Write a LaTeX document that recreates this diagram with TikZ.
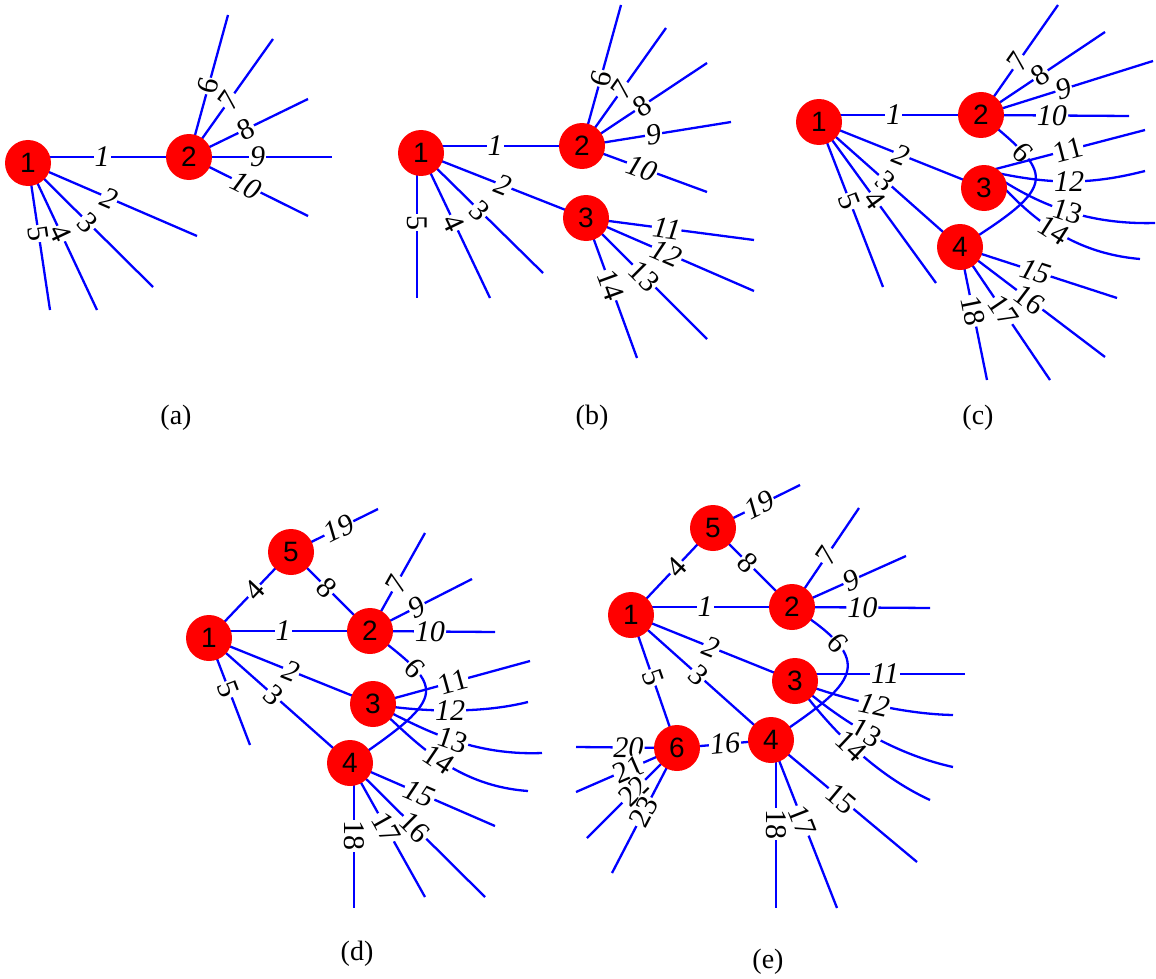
\documentclass[tikz,border=0pt]{standalone}
\usepackage{fontspec}
\setmainfont{Liberation Serif}
\newfontfamily\vtxfont{Liberation Sans}
\pgfdeclarelayer{bg}
\pgfsetlayers{bg,main}
\tikzset{
  vtx/.style={circle, fill=red, minimum size=46pt, inner sep=0pt, outer sep=0pt, font=\vtxfont\fontsize{28}{28}\selectfont},
  edg/.style={draw=blue, line width=2.3pt},
  lab/.style={sloped, fill=white, inner sep=1pt, pos=0.48, text=black, font=\fontsize{30}{30}\selectfont\itshape},
  labu/.style={lab, font=\fontsize{30}{30}\selectfont\upshape},
  captxt/.style={font=\fontsize{28}{28}\selectfont},
}
\begin{document}
\begin{tikzpicture}[x=1pt, y=-1pt]
\useasboundingbox (0,0) rectangle (1156,979);

% ---------------- (a) ----------------
\node[vtx] (a1) at (28,163) {1};
\node[vtx] (a2) at (189,157) {2};
\coordinate (aq2) at (197,236);
\coordinate (aq3) at (153,287);
\coordinate (aq4) at (97,310);
\coordinate (aq5) at (50,310);
\coordinate (aq6) at (228,15);
\coordinate (aq7) at (273,39);
\coordinate (aq8) at (308,99);
\coordinate (aq9) at (332,157);
\coordinate (aq10) at (308,216);
\begin{pgfonlayer}{bg}
\draw[edg] (a1.center |- a2.center) -- (a2.center) node[lab,pos=0.46] {1};
\draw[edg] (a1.center) -- (aq2) node[lab] {2};
\draw[edg] (a1.center) -- (aq3) node[labu] {3};
\draw[edg] (a1.center) -- (aq4) node[labu] {4};
\draw[edg] (a1.center) -- (aq5) node[labu] {5};
\draw[edg] (a2.center) -- (aq6) node[labu,pos=0.5] {6};
\draw[edg] (a2.center) -- (aq7) node[labu] {7};
\draw[edg] (a2.center) -- (aq8) node[labu] {8};
\draw[edg] (a2.center) -- (aq9) node[lab] {9};
\draw[edg] (a2.center) -- (aq10) node[lab] {10};
\end{pgfonlayer}
\node[captxt] (capa) at (176,418) {(a)};

% ---------------- (b) ----------------
\node[vtx] (b1) at (421,153) {1};
\node[vtx] (b2) at (582,146) {2};
\node[vtx] (b3) at (586,218) {3};
\coordinate (bq3) at (543,273);
\coordinate (bq4) at (490,298);
\coordinate (bq5) at (417,298);
\coordinate (bq6) at (621,5);
\coordinate (bq7) at (666,28);
\coordinate (bq8) at (707,63);
\coordinate (bq9) at (731,122);
\coordinate (bq10) at (707,192);
\coordinate (bq11) at (754,240);
\coordinate (bq12) at (754,291);
\coordinate (bq13) at (707,339);
\coordinate (bq14) at (637,358);
\begin{pgfonlayer}{bg}
\draw[edg] (b1.center |- b2.center) -- (b2.center) node[lab,pos=0.46] {1};
\draw[edg] (b1.center) -- (b3.center) node[lab,pos=0.5] {2};
\draw[edg] (b1.center) -- (bq3) node[labu] {3};
\draw[edg] (b1.center) -- (bq4) node[labu] {4};
\draw[edg] (bq5 |- b1.center) -- (bq5) node[labu] {5};
\draw[edg] (b2.center) -- (bq6) node[labu] {6};
\draw[edg] (b2.center) -- (bq7) node[labu] {7};
\draw[edg] (b2.center) -- (bq8) node[labu] {8};
\draw[edg] (b2.center) -- (bq9) node[lab] {9};
\draw[edg] (b2.center) -- (bq10) node[lab] {10};
\draw[edg] (b3.center) -- (bq11) node[lab] {11};
\draw[edg] (b3.center) -- (bq12) node[lab] {12};
\draw[edg] (b3.center) -- (bq13) node[labu] {13};
\draw[edg] (b3.center) -- (bq14) node[labu] {14};
\end{pgfonlayer}
\node[captxt] (capb) at (592,418) {(b)};

% ---------------- (c) ----------------
\node[vtx] (c1) at (819,122) {1};
\node[vtx] (c2) at (981,115) {2};
\node[vtx] (c3) at (984,188) {3};
\node[vtx] (c4) at (960,247) {4};
\coordinate (c3o) at (988,171);
\coordinate (cq4) at (936,283);
\coordinate (cq5) at (883,287);
\coordinate (cq7) at (1058,5);
\coordinate (cq8) at (1105,32);
\coordinate (cq9) at (1153,61);
\coordinate (cq10) at (1129,116);
\coordinate (cq11) at (1145,130);
\coordinate (cq12) at (1145,171);
\coordinate (cq13) at (1155,223);
\coordinate (cq14) at (1140,259);
\coordinate (cq15) at (1117,298);
\coordinate (cq16) at (1105,357);
\coordinate (cq17) at (1050,380);
\coordinate (cq18) at (987,380);
\begin{pgfonlayer}{bg}
\draw[edg] (c1.center |- c2.center) -- (c2.center) node[lab,pos=0.46] {1};
\draw[edg] (c1.center) -- (c3.center) node[lab,pos=0.5] {2};
\draw[edg] (c1.center) -- (c4.center) node[labu,pos=0.47] {3};
\draw[edg] (c1.center) -- (cq4) node[labu] {4};
\draw[edg] (c1.center) -- (cq5) node[labu] {5};
\draw[edg] (c2.center) .. controls (1054,175) and (1061,184) .. (c4.center) node[labu,pos=0.25] {6};
\draw[edg] (c2.center) -- (cq7) node[labu] {7};
\draw[edg] (c2.center) -- (cq8) node[labu] {8};
\draw[edg] (c2.center) -- (cq9) node[lab] {9};
\draw[edg] (c2.center) -- (cq10) node[lab] {10};
\draw[edg] (c3o) -- (cq11) node[labu,pos=0.51] {11};
\draw[edg] (c3o) .. controls (1050,185) and (1090,185) .. (cq12) node[lab,pos=0.5] {12};
\draw[edg] (c3o) .. controls (1030,200) and (1080,225) .. (cq13) node[labu,pos=0.55] {13};
\draw[edg] (c3o) .. controls (1020,205) and (1060,252) .. (cq14) node[labu,pos=0.55] {14};
\draw[edg] (c4.center) -- (cq15) node[lab] {15};
\draw[edg] (c4.center) -- (cq16) node[labu] {16};
\draw[edg] (c4.center) -- (cq17) node[labu] {17};
\draw[edg] (c4.center) -- (cq18) node[labu] {18};
\end{pgfonlayer}
\node[captxt] (capc) at (978,418) {(c)};

% ---------------- (d) ----------------
\node[vtx] (d1) at (209,638) {1};
\node[vtx] (d2) at (370,631) {2};
\node[vtx] (d3) at (373,704) {3};
\node[vtx] (d4) at (350,763) {4};
\node[vtx] (d5) at (291,552) {5};
\coordinate (dq5) at (250,745);
\coordinate (dq7) at (425,533);
\coordinate (dq9) at (472,579);
\coordinate (dq10) at (495,632);
\coordinate (dq11) at (530,661);
\coordinate (dq12) at (528,702);
\coordinate (dq13) at (542,753);
\coordinate (dq14) at (528,791);
\coordinate (dq15) at (495,826);
\coordinate (dq16) at (485,897);
\coordinate (dq17) at (425,897);
\coordinate (dq18) at (354,908);
\coordinate (dq19) at (378,509);
\begin{pgfonlayer}{bg}
\draw[edg] (d1.center |- d2.center) -- (d2.center) node[lab,pos=0.46] {1};
\draw[edg] (d1.center) -- (d3.center) node[lab,pos=0.5] {2};
\draw[edg] (d1.center) -- (d4.center) node[labu,pos=0.46] {3};
\draw[edg] (d1.center) -- (d5.center) node[labu,pos=0.55] {4};
\draw[edg] (d1.center) -- (dq5) node[labu] {5};
\draw[edg] (d2.center) .. controls (444,688) and (452,694) .. (d4.center) node[labu,pos=0.27] {6};
\draw[edg] (d2.center) -- (dq7) node[labu] {7};
\draw[edg] (d5.center) -- (d2.center) node[labu,pos=0.45] {8};
\draw[edg] (d2.center) -- (dq9) node[lab,pos=0.46] {9};
\draw[edg] (d2.center) -- (dq10) node[lab] {10};
\draw[edg] (d3.center) -- (dq11) node[labu,pos=0.51] {11};
\draw[edg] (d3.center) .. controls (420,712) and (480,714) .. (dq12) node[lab,pos=0.5] {12};
\draw[edg] (d3.center) .. controls (415,724) and (465,756) .. (dq13) node[labu,pos=0.55] {13};
\draw[edg] (d3.center) .. controls (405,728) and (445,785) .. (dq14) node[labu,pos=0.55] {14};
\draw[edg] (d4.center) -- (dq15) node[lab] {15};
\draw[edg] (d4.center) -- (dq16) node[labu] {16};
\draw[edg] (d4.center) -- (dq17) node[labu] {17};
\draw[edg] (dq18 |- d4.center) -- (dq18) node[labu,pos=0.5] {18};
\draw[edg] (d5.center) -- (dq19) node[lab,pos=0.55] {19};
\end{pgfonlayer}
\node[captxt] (capd) at (357,954) {(d)};

% ---------------- (e) ----------------
\node[vtx] (e1) at (631,615) {1};
\node[vtx] (e2) at (792,607) {2};
\node[vtx] (e3) at (795,681) {3};
\node[vtx] (e4) at (771,740) {4};
\node[vtx] (e5) at (713,528) {5};
\node[vtx] (e6) at (677,748) {6};
\coordinate (eq7) at (859,508);
\coordinate (eq9) at (906,556);
\coordinate (eq10) at (930,608);
\coordinate (eq11) at (965,674);
\coordinate (eq12) at (953,715);
\coordinate (eq13) at (953,767);
\coordinate (eq14) at (930,800);
\coordinate (eq15) at (917,862);
\coordinate (eq17) at (837,908);
\coordinate (eq18) at (776,908);
\coordinate (eq19) at (800,485);
\coordinate (eq20) at (576,747);
\coordinate (eq21) at (576,792);
\coordinate (eq22) at (587,838);
\coordinate (eq23) at (612,873);
\begin{pgfonlayer}{bg}
\draw[edg] (e1.center |- e2.center) -- (e2.center) node[lab,pos=0.46] {1};
\draw[edg] (e1.center) -- (e3.center) node[lab,pos=0.49] {2};
\draw[edg] (e1.center) -- (e4.center) node[labu] {3};
\draw[edg] (e1.center) -- (e5.center) node[labu,pos=0.55] {4};
\draw[edg] (e1.center) -- (e6.center) node[labu,pos=0.47] {5};
\draw[edg] (e2.center) .. controls (880,663) and (857,682) .. (e4.center) node[labu,pos=0.25] {6};
\draw[edg] (e2.center) -- (eq7) node[labu,pos=0.52] {7};
\draw[edg] (e5.center) -- (e2.center) node[labu,pos=0.44] {8};
\draw[edg] (e2.center) -- (eq9) node[lab,pos=0.52] {9};
\draw[edg] (e2.center) -- (eq10) node[lab,pos=0.51] {10};
\draw[edg] (e3.center |- eq11) -- (eq11) node[lab,pos=0.53] {11};
\draw[edg] (e3.center) .. controls (840,698) and (900,714) .. (eq12) node[lab,pos=0.52] {12};
\draw[edg] (e3.center) .. controls (830,712) and (885,752) .. (eq13) node[labu,pos=0.53] {13};
\draw[edg] (e3.center) .. controls (820,715) and (865,770) .. (eq14) node[labu,pos=0.53] {14};
\draw[edg] (e4.center) -- (eq15) node[labu] {15};
\draw[edg] (e6.center) -- (e4.center) node[lab,pos=0.51] {16};
\draw[edg] (e4.center) -- (eq17) node[labu] {17};
\draw[edg] (eq18 |- e4.center) -- (eq18) node[labu,pos=0.5] {18};
\draw[edg] (e5.center) -- (eq19) node[lab,pos=0.53] {19};
\draw[edg] (e6.center) -- (eq20) node[lab] {20};
\draw[edg] (e6.center) -- (eq21) node[labu] {21};
\draw[edg] (e6.center) -- (eq22) node[labu] {22};
\draw[edg] (e6.center) -- (eq23) node[labu,pos=0.51] {23};
\end{pgfonlayer}
\node[captxt] (cape) at (768,962) {(e)};
\end{tikzpicture}
\end{document}
